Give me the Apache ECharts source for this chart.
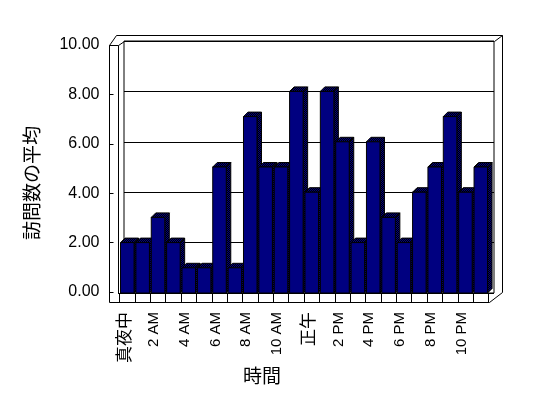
<!DOCTYPE html>
<html>
<head>
<meta charset="utf-8">
<script src="https://cdn.jsdelivr.net/npm/echarts@6/dist/echarts.min.js"></script>
<style>
  html, body { margin: 0; padding: 0; background: #fff; }
  #chart { width: 548px; height: 398px; }
</style>
</head>
<body>
<div id="chart"></div>
<script>
const hours = [
  "真夜中", "1 AM", "2 AM", "3 AM", "4 AM", "5 AM", "6 AM", "7 AM", "8 AM", "9 AM", "10 AM", "11 AM",
  "正午", "1 PM", "2 PM", "3 PM", "4 PM", "5 PM", "6 PM", "7 PM", "8 PM", "9 PM", "10 PM", "11 PM"
];
const visits = [2, 2, 3, 2, 1, 1, 5, 1, 7, 5, 5, 8, 4, 8, 6, 2, 6, 3, 2, 4, 5, 7, 4, 5];
const yTicks = [0, 2, 4, 6, 8, 10];

const yTitle = "訪問数の平均";
const xTitle = "時間";

const LATIN = '"Liberation Sans", "Noto Sans CJK JP", sans-serif';
const CJK = '"Noto Sans CJK JP", sans-serif';

// checker dither used on the top / side faces of the bars
function makeHatch() {
  const c = document.createElement("canvas");
  c.width = 2;
  c.height = 2;
  const ctx = c.getContext("2d");
  ctx.fillStyle = "#000000";
  ctx.fillRect(0, 0, 2, 2);
  ctx.fillStyle = "#000080";
  ctx.fillRect(0, 0, 1, 1);
  ctx.fillRect(1, 1, 1, 1);
  return { image: c, repeat: "repeat" };
}
const hatch = makeHatch();

function line(x1, y1, x2, y2) {
  return {
    type: "line",
    silent: true,
    shape: { x1: x1, y1: y1, x2: x2, y2: y2 },
    style: { stroke: "#000", lineWidth: 1 }
  };
}

const yMin = yTicks[0];
const yMax = yTicks[yTicks.length - 1];
const yStep = yTicks[1] - yTicks[0];

function hiddenY(gridIndex) {
  return {
    type: "value", gridIndex: gridIndex, min: yMin, max: yMax, interval: yStep,
    axisLine: { show: false }, axisTick: { show: false }, axisLabel: { show: false },
    splitLine: { show: false }
  };
}

const option = {
  animation: false,
  backgroundColor: "#fff",
  grid: [
    // back wall
    { left: 124, right: 54, top: 41, bottom: 105, show: true, borderColor: "#000", borderWidth: 1 },
    // bars / floor
    { left: 119.6, right: 59.5, top: 41, bottom: 105 },
    // category labels (front edge of the floor)
    { left: 115.6, right: 63.5, top: 41, bottom: 105 },
    // front value axis
    { left: 109.5, right: 60, top: 45, bottom: 106 }
  ],
  xAxis: [
    { type: "category", gridIndex: 0, data: hours, show: false },
    {
      type: "category", gridIndex: 1, data: hours,
      axisLine: { show: true, lineStyle: { color: "#000", width: 1 } },
      axisTick: { show: true, length: 9, interval: 0, lineStyle: { color: "#000" } },
      axisLabel: { show: false },
      splitLine: { show: false }
    },
    {
      type: "category", gridIndex: 2, data: hours,
      axisLine: { show: false }, axisTick: { show: false },
      axisLabel: {
        show: true, interval: 1, rotate: 90, margin: 19,
        color: "#000", fontFamily: LATIN, fontSize: 15,
        formatter: function (v) {
          return /[^\x00-\x7f]/.test(v) ? "{c|" + v + "}" : v;
        },
        rich: { c: { fontFamily: CJK, fontSize: 17, color: "#000" } }
      }
    },
    { type: "category", gridIndex: 3, data: hours, show: false }
  ],
  yAxis: [
    {
      type: "value", gridIndex: 0, min: yMin, max: yMax, interval: yStep,
      axisLine: { show: false }, axisTick: { show: false }, axisLabel: { show: false },
      splitLine: { show: true, lineStyle: { color: "#000", width: 1 } }
    },
    hiddenY(1),
    hiddenY(2),
    {
      type: "value", gridIndex: 3, min: yMin, max: yMax, interval: yStep,
      axisLine: { show: false },
      axisTick: { show: true, inside: true, length: 4, lineStyle: { color: "#000" } },
      axisLabel: {
        show: true, margin: 10, color: "#000", fontFamily: LATIN, fontSize: 16,
        formatter: function (v) { return v.toFixed(2); }
      },
      splitLine: { show: false }
    }
  ],
  series: [
    {
      type: "custom",
      xAxisIndex: 1,
      yAxisIndex: 1,
      data: hours.map(function (h, i) { return [i, visits[i]]; }),
      renderItem: function (params, api) {
        const top = api.coord([api.value(0), api.value(1)]);
        const base = api.coord([api.value(0), 0]);
        const slot = api.size([1, 0])[0];
        const w = slot * 0.88;
        const x = top[0] - w / 2;
        const d = 4.5;
        return {
          type: "group",
          children: [
            {
              type: "polygon",
              shape: { points: [[x + w, top[1]], [x + w + d, top[1] - d], [x + w + d, base[1] - d], [x + w, base[1]]] },
              style: { fill: hatch, stroke: "#000", lineWidth: 1 }
            },
            {
              type: "polygon",
              shape: { points: [[x, top[1]], [x + d, top[1] - d], [x + w + d, top[1] - d], [x + w, top[1]]] },
              style: { fill: hatch, stroke: "#000", lineWidth: 1 }
            },
            {
              type: "rect",
              shape: { x: x, y: top[1], width: w, height: base[1] - top[1] },
              style: { fill: "#000080", stroke: "#000", lineWidth: 1 }
            }
          ]
        };
      }
    }
  ],
  graphic: [
    // left wall
    line(109.5, 45.5, 109.5, 302.5),
    line(109.5, 45.5, 118.5, 45.5),
    line(118.5, 45.5, 118.5, 294),
    line(109.5, 45.5, 116.5, 35.5),
    line(118.5, 45.5, 124.5, 41.5),
    // top and right outer edges of the box
    line(116.5, 35.5, 502.5, 35.5),
    line(494.5, 41.5, 502.5, 35.5),
    line(502.5, 35.5, 502.5, 292.5),
    // floor
    line(502.5, 292.5, 489.5, 302.5),
    line(109.5, 302.5, 489.5, 302.5),
    {
      type: "text", silent: true, x: 32, y: 183, rotation: Math.PI / 2,
      style: { text: yTitle, font: "19px " + CJK, align: "center", verticalAlign: "middle", fill: "#000" }
    },
    {
      type: "text", silent: true, x: 262, y: 376,
      style: { text: xTitle, font: "19px " + CJK, align: "center", verticalAlign: "middle", fill: "#000" }
    }
  ]
};

const chart = echarts.init(document.getElementById("chart"));
chart.setOption(option);
</script>
</body>
</html>
